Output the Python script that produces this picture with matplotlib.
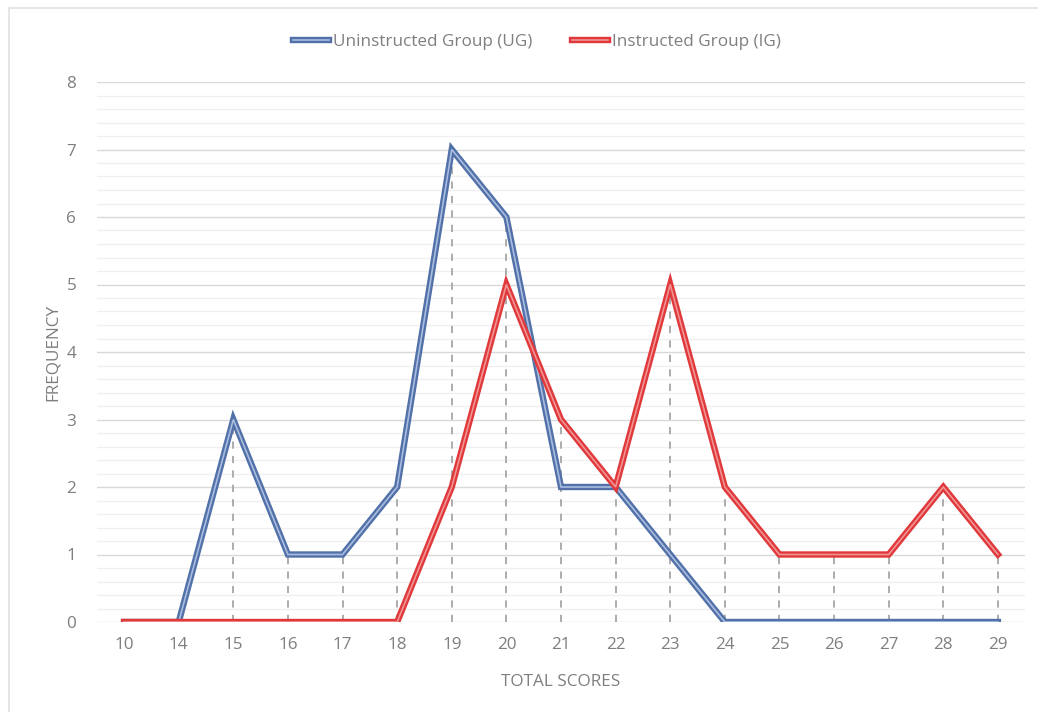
import matplotlib
matplotlib.use("Agg")
import matplotlib.pyplot as plt
from matplotlib.patches import Rectangle
from matplotlib.lines import Line2D
from matplotlib.legend_handler import HandlerBase
import numpy as np

categories = ["10", "14", "15", "16", "17", "18", "19", "20", "21", "22", "23",
              "24", "25", "26", "27", "28", "29"]
ug_values = [0, 0, 3, 1, 1, 2, 7, 6, 2, 2, 1, 0, 0, 0, 0, 0, 0]
ig_values = [0, 0, 0, 0, 0, 0, 2, 5, 3, 2, 5, 2, 1, 1, 1, 2, 1]
series_names = ["Uninstructed Group (UG)", "Instructed Group (IG)"]

W, H = 1038, 712
FS = 12.3
TXT = "#7f7f7f"
fig = plt.figure(figsize=(W / 100, H / 100), dpi=100)
fig.patch.set_facecolor("white")

# chart frame
fig.patches.append(Rectangle((9 / W, -0.1), 1.2, (H - 8) / H + 0.1, transform=fig.transFigure,
                             fill=False, edgecolor="#e2e2e2", linewidth=1.2))

ax = fig.add_axes([97 / W, (H - 622) / H, 928 / W, 540 / H])
x = np.arange(len(categories))
n = len(categories)
pad = 0.62 * (n - 1) / 20
ax.set_xlim(-pad, (n - 1) + pad)
ax.set_ylim(0, 8)

for s in ax.spines.values():
    s.set_visible(False)

ax.set_yticks(np.arange(0, 9, 1))
ax.set_yticks(np.arange(0, 8.01, 0.2), minor=True)
ax.grid(axis="y", which="major", color="#d9d9d9", linewidth=1.0)
ax.grid(axis="y", which="minor", color="#efefef", linewidth=0.9)
ax.set_axisbelow(True)
ax.tick_params(axis="both", which="both", length=0)
ax.tick_params(axis="y", pad=15)
ax.tick_params(axis="x", pad=11)
ax.set_xticks(x)
ax.set_xticklabels(categories)
for lab in ax.get_xticklabels() + ax.get_yticklabels():
    lab.set_fontfamily("Open Sans")
    lab.set_fontsize(FS)
    lab.set_color(TXT)

# drop lines
tops = np.maximum(ug_values, ig_values)
for xi, t in zip(x, tops):
    if t > 0:
        ax.plot([xi, xi], [0, t], color="#a6a6a6", linestyle=(0, (4, 4)), linewidth=1.3, zorder=1)

blue_outer, blue_inner = "#5171a8", "#aabde0"
red_outer, red_inner = "#e0393c", "#f29393"

ax.plot(x, ug_values, color=blue_outer, linewidth=4.6, solid_joinstyle="miter", zorder=3)
ax.plot(x, ug_values, color=blue_inner, linewidth=1.2, solid_joinstyle="miter", zorder=3.1)
ax.plot(x, ig_values, color=red_outer, linewidth=4.6, solid_joinstyle="miter", zorder=4)
ax.plot(x, ig_values, color=red_inner, linewidth=1.2, solid_joinstyle="miter", zorder=4.1)

ax.set_xlabel("TOTAL SCORES", fontfamily="Open Sans", fontsize=FS, color=TXT, labelpad=15)
ax.set_ylabel("FREQUENCY", fontfamily="Open Sans", fontsize=FS, color=TXT, labelpad=4)


class DoubleLine:
    pass


class HandlerDouble(HandlerBase):
    def __init__(self, outer, inner):
        super().__init__()
        self.outer, self.inner = outer, inner

    def create_artists(self, legend, orig_handle, xdescent, ydescent, width, height, fontsize, trans):
        y = height / 2 - ydescent
        l1 = Line2D([-xdescent, width - xdescent], [y, y], color=self.outer, linewidth=4.6, transform=trans)
        l2 = Line2D([-xdescent, width - xdescent], [y, y], color=self.inner, linewidth=1.2, transform=trans)
        return [l1, l2]


h1, h2 = DoubleLine(), DoubleLine()
leg = fig.legend([h1, h2], series_names,
                 handler_map={h1: HandlerDouble(blue_outer, blue_inner),
                              h2: HandlerDouble(red_outer, red_inner)},
                 loc="center", bbox_to_anchor=(537 / W, 1 - 42 / H), ncol=2, frameon=False,
                 prop={"family": "Open Sans", "size": FS}, handlelength=2.1, handletextpad=0.25,
                 columnspacing=2.3)
for t in leg.get_texts():
    t.set_color(TXT)

fig.savefig("out.png", dpi=100)
